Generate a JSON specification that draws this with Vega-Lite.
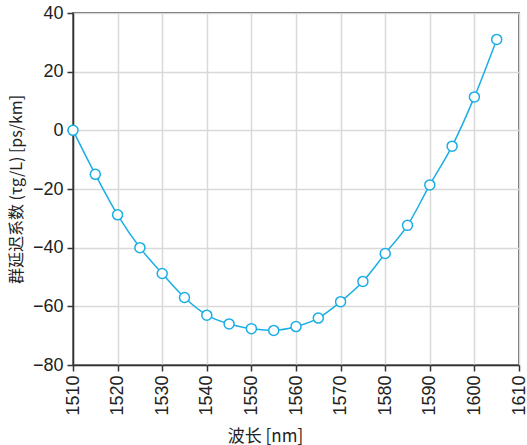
{
  "$schema": "https://vega.github.io/schema/vega-lite/v6.json",
  "width": 446,
  "height": 352,
  "autosize": {"type": "none"},
  "padding": {"left": 73, "top": 13, "right": 8, "bottom": 80},
  "background": "white",
  "config": {
    "font": "Liberation Sans, Noto Sans CJK SC",
    "view": {"stroke": "#333333", "strokeWidth": 1.5},
    "axis": {
      "gridColor": "#d9d9d9",
      "gridWidth": 1.5,
      "domainColor": "#333333",
      "domainWidth": 1.5,
      "tickColor": "#333333",
      "tickWidth": 1.5,
      "tickSize": 6,
      "labelFont": "Liberation Sans",
      "labelFontSize": 18,
      "labelColor": "#222222",
      "titleFont": "Noto Sans CJK SC",
      "titleFontSize": 16,
      "titleFontWeight": "normal",
      "titleColor": "#222222"
    }
  },
  "data": {
    "values": [
      {"wl": 1510, "d": 0},
      {"wl": 1515, "d": -15},
      {"wl": 1520, "d": -28.8},
      {"wl": 1525, "d": -40},
      {"wl": 1530, "d": -48.8},
      {"wl": 1535, "d": -57},
      {"wl": 1540, "d": -63},
      {"wl": 1545, "d": -66},
      {"wl": 1550, "d": -67.6},
      {"wl": 1555, "d": -68.2},
      {"wl": 1560, "d": -66.9},
      {"wl": 1565, "d": -64},
      {"wl": 1570, "d": -58.4},
      {"wl": 1575, "d": -51.5},
      {"wl": 1580, "d": -42},
      {"wl": 1585, "d": -32.4},
      {"wl": 1590, "d": -18.6},
      {"wl": 1595, "d": -5.4},
      {"wl": 1600, "d": 11.4},
      {"wl": 1605, "d": 31}
    ]
  },
  "encoding": {
    "x": {
      "field": "wl",
      "type": "quantitative",
      "scale": {"domain": [1510, 1610], "nice": false, "zero": false},
      "axis": {
        "values": [1510, 1520, 1530, 1540, 1550, 1560, 1570, 1580, 1590, 1600, 1610],
        "labelAngle": -90,
        "labelAlign": "right",
        "labelBaseline": "middle",
        "labelPadding": 4,
        "title": "波长 [nm]",
        "titleFontSize": 17,
        "titleX": 192,
        "titleY": 71,
        "titleBaseline": "middle",
        "labelFlush": false,
        "format": "d"
      }
    },
    "y": {
      "field": "d",
      "type": "quantitative",
      "scale": {"domain": [-80, 40], "nice": false},
      "axis": {
        "values": [-80, -60, -40, -20, 0, 20, 40],
        "labelPadding": 4,
        "title": "群延迟系数 (τg/L) [ps/km]",
        "titlePadding": 8,
        "labelFlush": false
      }
    }
  },
  "layer": [
    {
      "mark": {"type": "line", "color": "#1aaee5", "strokeWidth": 1.5, "interpolate": "monotone"}
    },
    {
      "mark": {"type": "point", "shape": "circle", "filled": true, "fill": "white", "stroke": "#1aaee5", "strokeWidth": 1.5, "size": 100, "opacity": 1}
    }
  ]
}
